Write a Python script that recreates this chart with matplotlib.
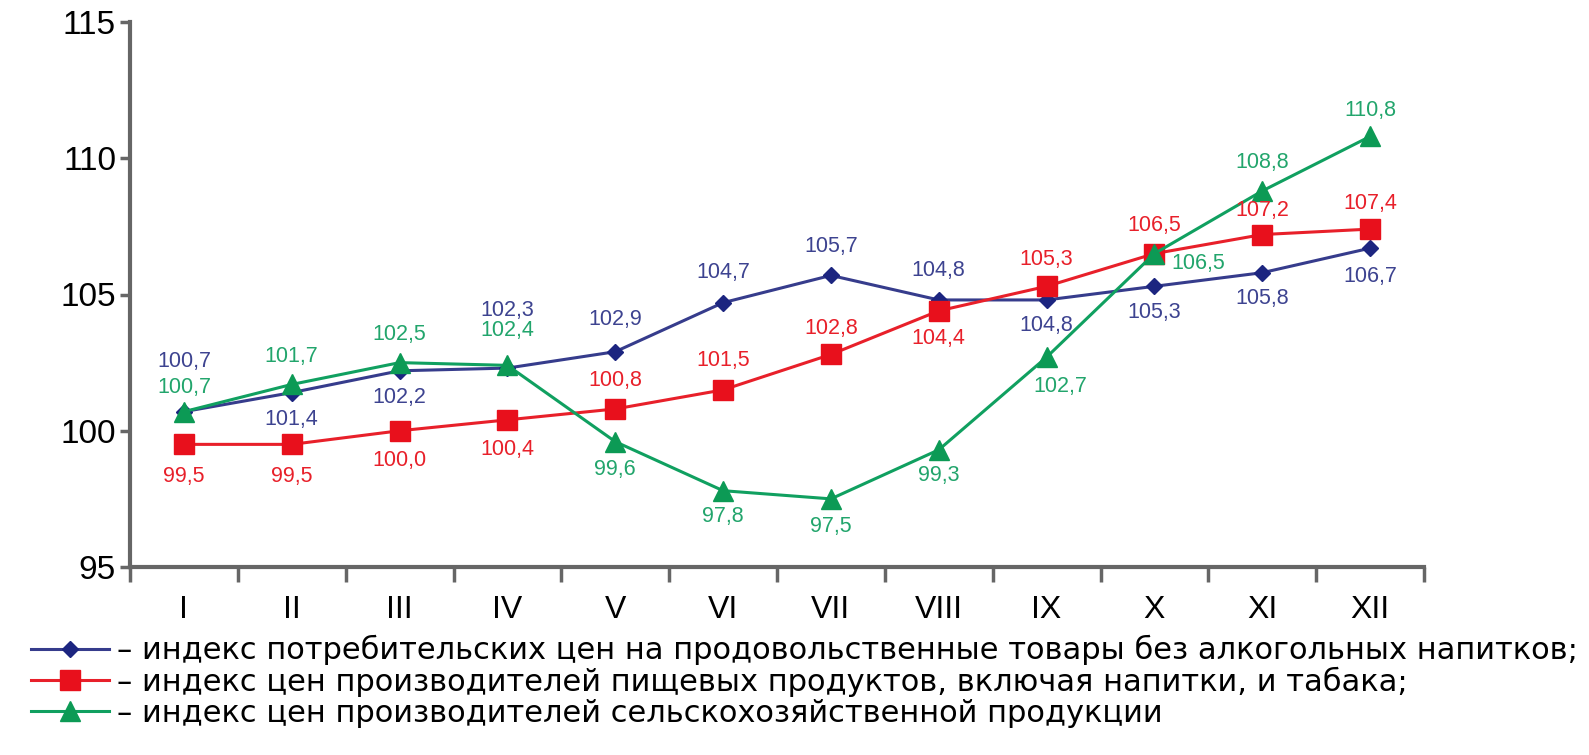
import matplotlib
matplotlib.use("Agg")
import matplotlib.pyplot as plt

months = ["I", "II", "III", "IV", "V", "VI", "VII", "VIII", "IX", "X", "XI", "XII"]

cpi_food = [100.7, 101.4, 102.2, 102.3, 102.9, 104.7, 105.7, 104.8, 104.8, 105.3, 105.8, 106.7]
ppi_food = [99.5, 99.5, 100.0, 100.4, 100.8, 101.5, 102.8, 104.4, 105.3, 106.5, 107.2, 107.4]
ppi_agri = [100.7, 101.7, 102.5, 102.4, 99.6, 97.8, 97.5, 99.3, 102.7, 106.5, 108.8, 110.8]

legend_labels = [
    "– индекс потребительских цен на продовольственные товары без алкогольных напитков;",
    "– индекс цен производителей пищевых продуктов, включая напитки, и табака;",
    "– индекс цен производителей сельскохозяйственной продукции",
]

# label offsets in pixels (dx, dy)
off_blue = [(0, 50), (0, -27), (0, -27), (0, 58), (0, 32), (0, 30), (0, 29), (0, 29),
            (0, -26), (0, -26), (0, -26), (0, -28)]
off_red = [(0, -32), (0, -32), (0, -30), (0, -30), (0, 28), (0, 29), (0, 26), (0, -28),
           (0, 27), (0, 28), (0, 24), (0, 26)]
off_green = [(0, 24), (0, 28), (0, 28), (0, 35), (0, -28), (0, -26), (0, -28), (0, -26),
             (14, -29), (44, -10), (0, 28), (0, 26)]

plt.rcParams['font.family'] = ['Liberation Sans', 'DejaVu Sans']

fig = plt.figure(figsize=(15.89, 7.55), dpi=100)
ax = fig.add_axes([130 / 1589, 1 - 567 / 755, (1424 - 130) / 1589, (567 - 22) / 755])

x = list(range(len(months)))
series = [
    (cpi_food, "#363c8c", "#1c2580", "D", 8, off_blue, "#3d4390"),
    (ppi_food, "#e8202a", "#e8101c", "s", 15, off_red, "#e8202a"),
    (ppi_agri, "#10a060", "#0c9a55", "^", 14, off_green, "#22a56c"),
]

lines = []
for vals, lc, mc, mk, ms, offs, tc in series:
    ln, = ax.plot(x, vals, color=lc, lw=2.2, marker=mk, markersize=ms,
                  markerfacecolor=mc, markeredgecolor=mc)
    lines.append(ln)
    for xi, v, (dx, dy) in zip(x, vals, offs):
        ax.annotate(f"{v:.1f}".replace(".", ","), (xi, v), xytext=(dx, dy),
                    textcoords="offset pixels", ha="center", va="center",
                    fontsize=15.5, color=tc)

ax.set_xlim(-0.5, 11.5)
ax.set_ylim(95, 115)
ax.set_yticks([95, 100, 105, 110, 115])
ax.set_xticks(x)
ax.set_xticklabels(months)
ax.set_xticks([i - 0.5 for i in range(13)], minor=True)
ax.tick_params(axis="x", which="major", length=0, pad=20, labelsize=23)
ax.tick_params(axis="x", which="minor", length=11, width=2.5, color="#666666", direction="out")
ax.tick_params(axis="y", length=7, width=2.5, color="#666666", pad=3, labelsize=24)

for s in ["top", "right"]:
    ax.spines[s].set_visible(False)
for s in ["left", "bottom"]:
    ax.spines[s].set_color("#666666")
    ax.spines[s].set_linewidth(3)

fig.legend(lines, legend_labels, loc="upper left", bbox_to_anchor=(31 / 1589, 1 - 635 / 755),
           frameon=False, prop={"family": "DejaVu Sans", "size": 22},
           handlelength=2.55, handletextpad=0.25,
           labelspacing=0.05, borderpad=0, borderaxespad=0)

fig.savefig("out.png", dpi=100)
